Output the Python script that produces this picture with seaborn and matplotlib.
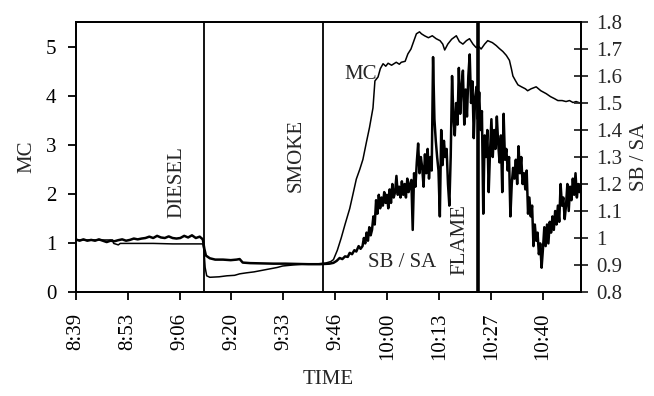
import matplotlib
matplotlib.use("Agg")
import matplotlib.pyplot as plt
import seaborn as sns
import pandas as pd

# -------------------------------
# Data (minutes after 8:39)
# -------------------------------
mc_time = [0, 9.5, 9.8, 11.0, 11.5, 12.5, 20, 25, 32.8, 33.1,
           33.4, 33.8, 34.6, 37.0, 39.0, 41.0, 42.3, 44.0, 46.0, 48.0,
           50.0, 52.0, 53.4, 56.0, 59.0, 62.0, 64.5, 65.8, 66.5, 67.5,
           68.5, 69.5, 70.7, 71.5, 72.4, 73.3, 74.1, 75.0, 75.8, 76.7,
           77.2, 78.0, 78.6, 79.3, 80.0, 80.6, 81.5, 82.7, 83.5, 84.0,
           85.0, 85.7, 86.5, 87.4, 87.9, 88.7, 89.2, 90.0, 91.0, 92.0,
           93.0, 94.0, 94.7, 95.2, 96.0, 97.0, 98.2, 99.0, 99.9, 100.8,
           101.6, 102.5, 103.3, 104.0, 104.6, 105.5, 106.3, 107.5, 108.5, 109.3,
           110.2, 111.1, 111.9, 112.4, 112.8, 113.5, 114.1, 115.0, 116.0, 116.6,
           117.5, 118.8, 120.0, 121.4, 122.5, 123.5, 124.4, 125.5, 126.5, 127.4,
           128.3, 129.1, 130.5]
mc_value = [1.06, 1.06, 0.99, 0.96, 0.99, 0.99, 0.99, 0.98, 0.98, 0.85,
            0.50, 0.33, 0.30, 0.31, 0.33, 0.34, 0.37, 0.39, 0.41, 0.44,
            0.47, 0.50, 0.53, 0.55, 0.57, 0.57, 0.59, 0.62, 0.66, 0.85,
            1.10, 1.38, 1.70, 1.98, 2.30, 2.50, 2.70, 3.05, 3.35, 3.75,
            4.30, 4.38, 4.55, 4.65, 4.60, 4.66, 4.62, 4.68, 4.64, 4.68,
            4.70, 4.85, 4.95, 5.15, 5.26, 5.30, 5.26, 5.22, 5.18, 5.22,
            5.16, 5.12, 5.05, 4.93, 5.05, 5.15, 5.22, 5.10, 5.05, 5.12,
            5.16, 5.05, 4.98, 5.00, 4.95, 5.05, 5.12, 5.08, 5.02, 4.96,
            4.90, 4.82, 4.72, 4.55, 4.40, 4.30, 4.22, 4.18, 4.14, 4.10,
            4.14, 4.18, 4.10, 4.04, 3.98, 3.94, 3.90, 3.90, 3.88, 3.90,
            3.86, 3.88, 3.84]

sb_time = [0, 1, 2, 3, 4, 5, 6, 7, 8, 9,
           10, 11, 12, 13, 14, 15, 16, 17, 18, 19,
           20, 21, 22, 23, 24, 25, 26, 27, 28, 29,
           30, 31, 32, 32.8, 33.2, 33.6, 34.6, 36, 38, 40,
           41.5, 42.3, 43.1, 45, 48, 51, 54, 57, 60, 63,
           65.5, 66.5, 67.3, 68.1, 68.8, 69.5, 70.2, 70.7, 71.3, 71.9,
           72.4, 73.0, 73.5,
           74.0, 74.35, 74.7, 75.05, 75.4, 75.75, 76.1, 76.45, 76.8, 77.15,
           77.5, 77.85, 78.2, 78.55, 78.9, 79.25, 79.6, 79.95, 80.3, 80.65,
           81.0, 81.35, 81.7, 82.05, 82.4, 82.75, 83.1, 83.45, 83.8, 84.15,
           84.5, 84.85, 85.2, 85.55, 85.9, 86.25, 86.6, 86.95, 87.3, 87.65,
           88.0, 88.35, 88.7, 89.05, 89.4, 89.75, 90.1, 90.45, 90.8, 91.15,
           91.5, 91.85, 92.2, 92.55, 92.9, 93.25, 93.6, 93.95, 94.3, 94.65,
           95.0, 95.35, 95.7, 96.05, 96.4, 96.75, 97.1, 97.45, 97.8, 98.15,
           98.5, 98.85, 99.2, 99.55, 99.9, 100.25, 100.6, 100.95, 101.3, 101.65,
           102.0, 102.35, 102.7, 103.05, 103.4, 103.75, 104.1, 104.45, 104.8, 105.15,
           105.5, 105.85, 106.2, 106.55, 106.9, 107.25, 107.6, 107.95, 108.3, 108.65,
           109.0, 109.35, 109.7, 110.05, 110.4, 110.75, 111.1, 111.45, 111.8, 112.15,
           112.5, 112.85, 113.2, 113.55, 113.9, 114.25, 114.6, 114.95, 115.3, 115.65,
           116.0, 116.35, 116.7, 117.05, 117.4, 117.75, 118.1, 118.45, 118.8, 119.15,
           119.5, 119.85, 120.2, 120.55, 120.9, 121.25, 121.6, 121.95, 122.3, 122.65,
           123.0, 123.35, 123.7, 124.05, 124.4, 124.75, 125.1, 125.45, 125.8, 126.15,
           126.5, 126.85, 127.2, 127.55, 127.9, 128.25, 128.6, 128.95, 129.3, 129.65,
           130.0, 130.3]
sb_value = [0.995, 0.99, 0.995, 0.99, 0.993, 0.99, 0.995, 0.99, 0.985, 0.99,
            0.988, 0.992, 0.995, 0.99, 0.993, 0.998, 0.995, 0.998, 1.0, 1.005,
            1.0, 1.008, 1.002, 1.0, 1.006, 1.0, 0.998, 1.0, 1.008, 1.002,
            1.01, 1.0, 1.005, 0.995, 0.96, 0.935, 0.925, 0.92, 0.92, 0.918,
            0.92, 0.922, 0.909, 0.907, 0.906, 0.905, 0.905, 0.904, 0.903, 0.903,
            0.905, 0.908, 0.915, 0.926, 0.922, 0.932, 0.93, 0.945, 0.94, 0.955,
            0.95, 0.97, 0.96,
            0.97, 1.0, 0.98, 1.02, 0.99, 1.04, 1.01, 1.03, 1.08, 1.05,
            1.14, 1.09, 1.16, 1.11, 1.15, 1.12, 1.17, 1.13, 1.16, 1.11,
            1.18, 1.13, 1.2, 1.15, 1.17, 1.23, 1.16, 1.19, 1.15, 1.21,
            1.16, 1.2, 1.15, 1.22, 1.17, 1.2, 1.215, 1.03, 1.24, 1.19,
            1.28, 1.35, 1.24, 1.3, 1.26, 1.19, 1.31, 1.24, 1.33, 1.22,
            1.3, 1.25, 1.67, 1.44, 1.36, 1.3, 1.25, 1.08, 1.4, 1.27,
            1.36, 1.3, 1.33, 1.2, 1.12, 1.3, 1.6, 1.45, 1.38, 1.5,
            1.42, 1.63, 1.46, 1.56, 1.62, 1.42, 1.55, 1.45, 1.6, 1.68,
            1.5, 1.58, 1.37, 1.52, 1.56, 1.44, 1.54, 1.4, 1.47, 1.09,
            1.38, 1.3, 1.4, 1.17, 1.32, 1.44, 1.3, 1.4, 1.33, 1.45,
            1.35, 1.28, 1.38, 1.17, 1.46, 1.29, 1.33, 1.25, 1.3, 1.08,
            1.2, 1.26, 1.22, 1.29, 1.2, 1.34, 1.24, 1.3, 1.2, 1.24,
            1.18, 1.25, 1.09, 1.15, 1.08, 1.12, 0.97, 1.05, 0.99, 1.02,
            0.94, 0.98, 0.89, 0.96, 1.04, 0.97, 1.05, 0.98, 1.06, 1.02,
            1.08, 1.03, 1.1, 1.05, 1.12, 1.06, 1.2, 1.12, 1.15, 1.07,
            1.12, 1.2, 1.1, 1.19, 1.14, 1.22, 1.16, 1.24, 1.15, 1.2,
            1.17, 1.19]

event_time = [33.0, 63.7, 103.8]
event_label = ["DIESEL", "SMOKE", "FLAME"]
event_width = [1.3, 1.3, 2.6]
event_text_pos = [(26.1, 1.5), (57.0, 2.03), (99.0, 0.35)]

tick_labels = ["8:39", "8:53", "9:06", "9:20", "9:33", "9:46",
               "10:00", "10:13", "10:27", "10:40"]
tick_step = 13.4

mc_df = pd.DataFrame({"time": mc_time, "MC": mc_value})
sb_df = pd.DataFrame({"time": sb_time, "SBSA": sb_value})

# -------------------------------
# Plot
# -------------------------------
sns.set_style("ticks")
plt.rcParams["font.family"] = ["Liberation Serif", "DejaVu Serif"]
plt.rcParams["font.size"] = 15

fig = plt.figure(figsize=(6.54, 3.96), dpi=100)
ax = fig.add_axes([0.1157, 0.2626, 0.7723, 0.6818])
ax2 = ax.twinx()

sns.lineplot(data=mc_df, x="time", y="MC", ax=ax, color="black",
             linewidth=1.1, estimator=None)
sns.lineplot(data=sb_df, x="time", y="SBSA", ax=ax2, color="black",
             linewidth=1.8, estimator=None)

for t, lw in zip(event_time, event_width):
    ax.axvline(t, color="black", linewidth=lw)

for (tx, ty), lab in zip(event_text_pos, event_label):
    ax.text(tx, ty, lab, rotation=90, ha="center", va="bottom", fontsize=15)

ax.text(73.5, 4.43, "MC", ha="center", va="center", fontsize=15)
ax.text(84.2, 0.61, "SB / SA", ha="center", va="center", fontsize=15)

ax.set_xlim(0, 130.3)
ax.set_ylim(0, 5.5)
ax2.set_ylim(0.8, 1.8)

ax.set_xticks([i * tick_step for i in range(len(tick_labels))])
ax.set_xticklabels(tick_labels, rotation=90)
ax.set_yticks(range(6))
right_ticks = [0.8, 0.9, 1.0, 1.1, 1.2, 1.3, 1.4, 1.5, 1.6, 1.7, 1.8]
ax2.set_yticks(right_ticks)
ax2.set_yticklabels(["0.8", "0.9", "1", "1.1", "1.2", "1.3", "1.4",
                     "1.5", "1.6", "1.7", "1.8"])

ax.set_xlabel("TIME", fontsize=15, labelpad=7)
ax.set_ylabel("MC", fontsize=15, labelpad=7)
ax2.set_ylabel("SB / SA", fontsize=15, labelpad=6)

ax.tick_params(axis="x", direction="out", length=6, width=1.3,
               labelsize=15, colors="black", pad=9)
ax.tick_params(axis="y", direction="out", length=6, width=1.3,
               labelsize=15, colors="black", pad=8)
ax2.tick_params(axis="y", direction="inout", length=10, width=1.3,
                labelsize=15, pad=6)

for a in (ax, ax2):
    for s in a.spines.values():
        s.set_linewidth(1.3)
        s.set_color("black")

plt.savefig("out.png", dpi=100)
